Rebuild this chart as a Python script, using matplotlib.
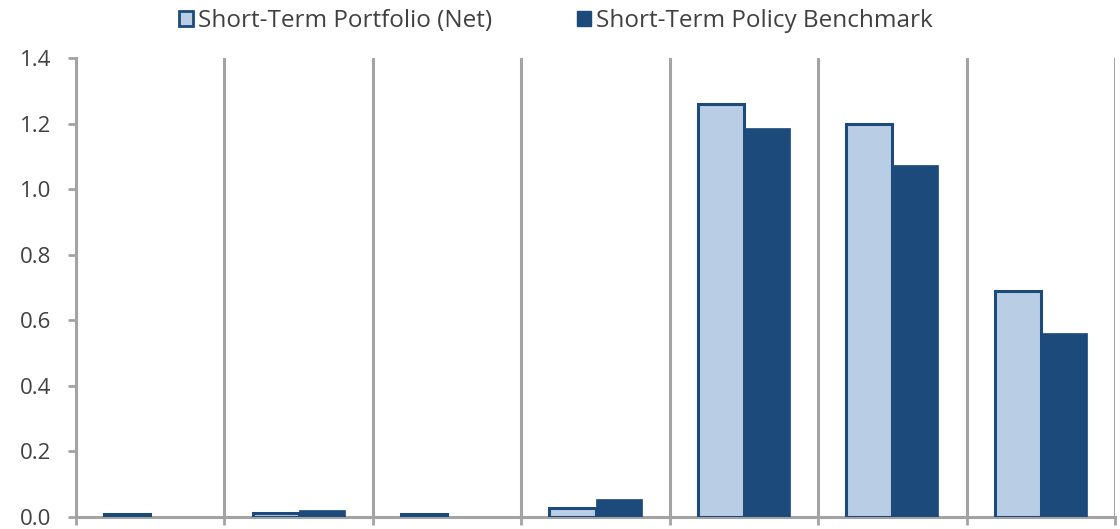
import matplotlib
matplotlib.use('Agg')
import matplotlib.pyplot as plt
import numpy as np
from matplotlib.patches import Patch

plt.rcParams['font.family'] = ['Open Sans', 'DejaVu Sans']

# Seven periods, two series
periods = ['P1', 'P2', 'P3', 'P4', 'P5', 'P6', 'P7']
portfolio = [0.010, 0.013, 0.008, 0.027, 1.260, 1.200, 0.690]
benchmark = [0.001, 0.020, 0.001, 0.056, 1.185, 1.073, 0.562]
series_names = ['Short-Term Portfolio (Net)', 'Short-Term Policy Benchmark']

LIGHT = '#B9CDE5'
DARK = '#1B4A7B'
GRID = '#A3A3A3'
INK = '#404040'

fig = plt.figure(figsize=(11.2, 5.29), dpi=100)
ax = fig.add_axes([0.0679, 0.0227, 0.9276, 0.8677])

x = np.arange(len(periods))
w = 0.31
ax.bar(x - w / 2, portfolio, w, color=LIGHT, edgecolor=DARK, linewidth=2.2,
       zorder=3)
ax.bar(x + w / 2, benchmark, w, color=DARK, edgecolor=DARK, linewidth=0.5,
       zorder=3)

ax.set_xlim(-0.5, len(periods) - 0.5)
ax.set_ylim(0, 1.4)
yt = np.arange(0, 1.41, 0.2)
ax.set_yticks(yt)
ax.set_yticklabels([f'{v:.1f}' for v in yt], fontsize=16, color=INK)

# category separators: gridlines on the boundary ticks
bounds = np.arange(-0.5, len(periods), 1.0)
ax.set_xticks(bounds)
ax.set_xticklabels([''] * len(bounds))
ax.grid(axis='x', color=GRID, linewidth=2.2, zorder=1)
ax.grid(axis='y', visible=False)

ax.tick_params(axis='x', length=6, width=2, color=GRID, direction='out')
ax.tick_params(axis='y', length=6, width=2, color=GRID, direction='out', pad=12)

for s in ['top', 'right']:
    ax.spines[s].set_visible(False)
ax.spines['left'].set_color(GRID)
ax.spines['left'].set_linewidth(2.2)
ax.spines['bottom'].set_color(GRID)
ax.spines['bottom'].set_linewidth(2.2)

handles = [Patch(facecolor=LIGHT, edgecolor=DARK, linewidth=2.0),
           Patch(facecolor=DARK, edgecolor=DARK)]
fig.legend(handles, series_names, loc='upper center', bbox_to_anchor=(0.496, 1.024),
           ncol=2, frameon=False, fontsize=17.5, handlelength=0.6,
           handleheight=0.6, handletextpad=0.18, columnspacing=3.5,
           labelcolor=INK)

fig.savefig('out.png', dpi=100)
